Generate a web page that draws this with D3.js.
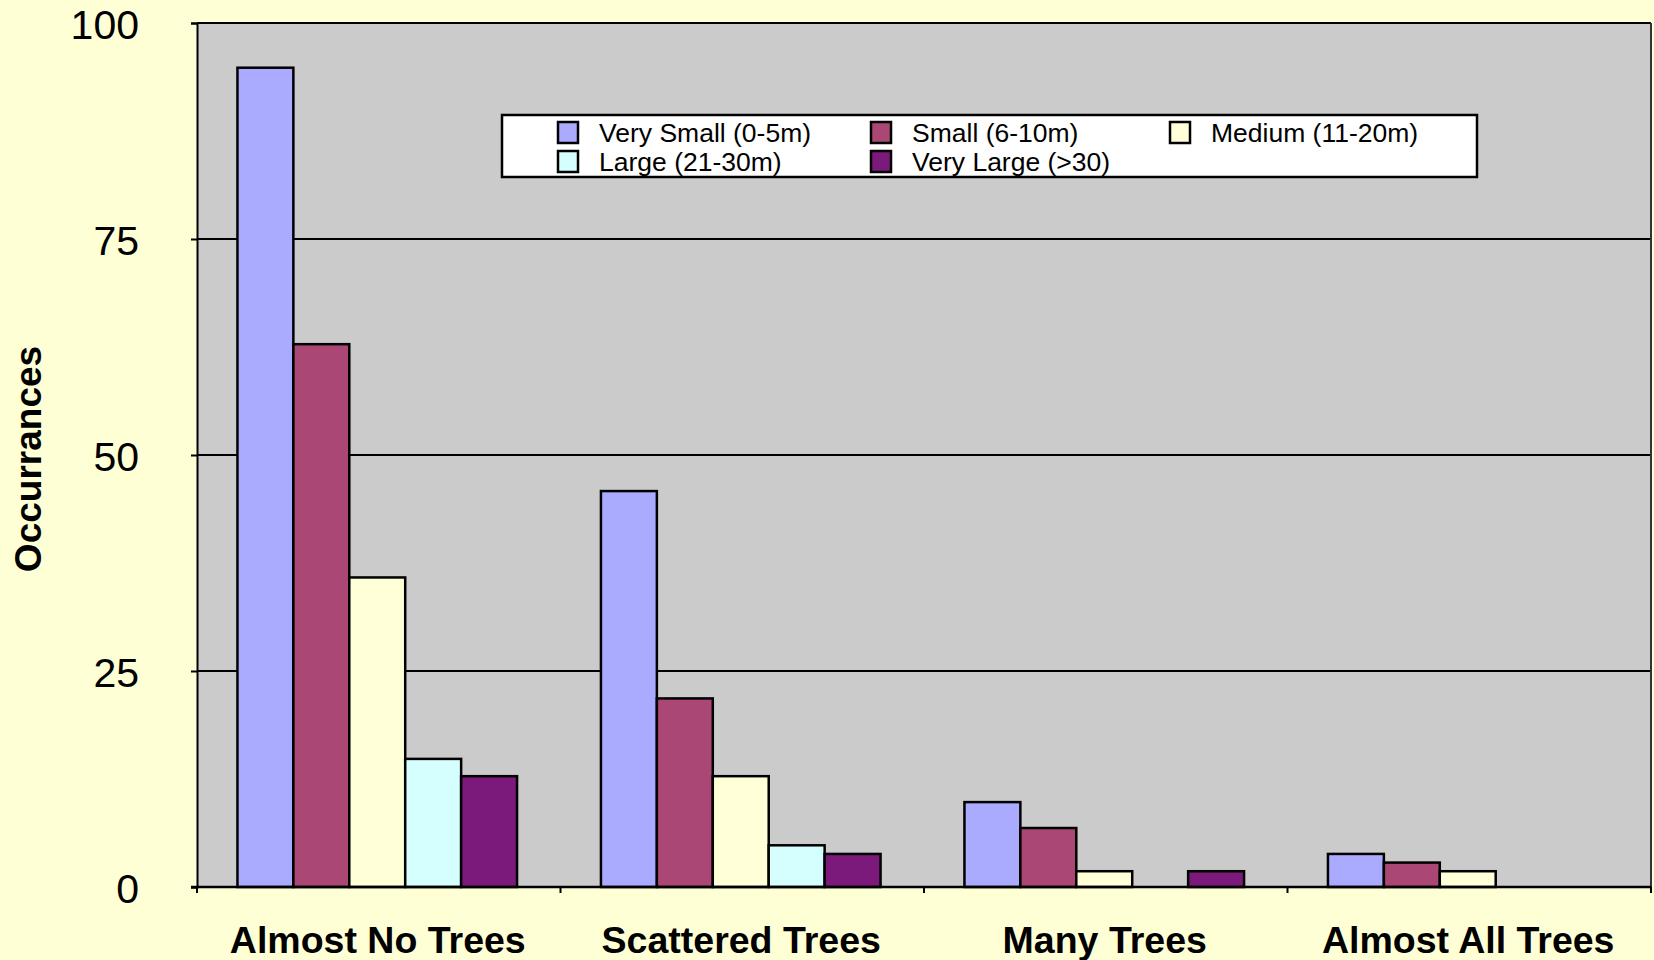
<!DOCTYPE html>
<html>
<head>
<meta charset="utf-8">
<script src="https://cdn.jsdelivr.net/npm/d3@7"></script>
<style>
  html, body { margin: 0; padding: 0; background: #FFFFD6; }
  svg { display: block; font-family: "Liberation Sans", Arial, sans-serif; }
</style>
</head>
<body>
<svg id="chart" width="1654" height="960"></svg>
<script>
// Tree-cover categories along the x axis
const categories = ["Almost No Trees", "Scattered Trees", "Many Trees", "Almost All Trees"];

// Tree-height classes (one bar per class in each category)
const seriesNames = ["Very Small (0-5m)", "Small (6-10m)", "Medium (11-20m)", "Large (21-30m)", "Very Large (>30)"];
const seriesColors = ["#AAAAFF", "#AA4774", "#FFFFD8", "#D5FFFF", "#7B1A7A"];

// Occurrences per class, in category order
const verySmall = [95, 46, 10, 4];
const small     = [63, 22, 7, 3];
const medium    = [36, 13, 2, 2];
const large     = [15, 5, 0, 0];
const veryLarge = [13, 4, 2, 0];
const seriesValues = [verySmall, small, medium, large, veryLarge];

const yTicks = [0, 25, 50, 75, 100];

const W = 1654, H = 960;
const margin = { top: 23, right: 3, bottom: 73, left: 197 };
const svg = d3.select("#chart");

const x = d3.scaleBand().domain(categories).range([margin.left, W - margin.right]).padding(0);
const xs = d3.scaleBand().domain(d3.range(seriesNames.length)).range([0, x.bandwidth()])
  .paddingInner(0).paddingOuter(0.75);
const y = d3.scaleLinear().domain([0, 100]).range([H - margin.bottom, margin.top]);

// Plot area background
svg.append("rect")
  .attr("x", margin.left).attr("y", margin.top)
  .attr("width", W - margin.right - margin.left)
  .attr("height", H - margin.bottom - margin.top)
  .attr("fill", "#CBCBCB");

// Horizontal gridlines
svg.append("g")
  .selectAll("line").data(yTicks.filter(d => d > 0)).join("line")
  .attr("x1", margin.left).attr("x2", W - margin.right)
  .attr("y1", d => y(d)).attr("y2", d => y(d))
  .attr("stroke", "#000").attr("stroke-width", 2);

// Right border of the plot area
svg.append("line")
  .attr("x1", W - margin.right).attr("x2", W - margin.right)
  .attr("y1", margin.top).attr("y2", H - margin.bottom)
  .attr("stroke", "#333").attr("stroke-width", 2);

// Bars
const rows = [];
categories.forEach((c, ci) => {
  seriesValues.forEach((vals, si) => {
    if (vals[ci] > 0) rows.push({ c, si, v: vals[ci] });
  });
});
svg.append("g")
  .selectAll("rect").data(rows).join("rect")
  .attr("x", d => x(d.c) + xs(d.si) - 1.5)
  .attr("y", d => y(d.v) + 1.5)
  .attr("width", xs.bandwidth())
  .attr("height", d => y(0) - y(d.v) - 1.5)
  .attr("fill", d => seriesColors[d.si])
  .attr("stroke", "#000").attr("stroke-width", 2.5);

// Y axis
const yAxis = svg.append("g")
  .attr("transform", `translate(${margin.left},0)`)
  .call(d3.axisLeft(y).tickValues(yTicks).tickSize(6).tickPadding(52).tickFormat(d3.format("d")));
yAxis.select(".domain").attr("stroke", "#000").attr("stroke-width", 2);
yAxis.selectAll(".tick line").attr("stroke", "#000").attr("stroke-width", 2);
yAxis.selectAll(".tick text").attr("font-size", 41).attr("fill", "#000")
  .attr("font-family", "'Liberation Sans', Arial, sans-serif").attr("dy", "0.38em");

// X axis
const xAxis = svg.append("g")
  .attr("transform", `translate(0,${H - margin.bottom})`)
  .call(d3.axisBottom(x).tickSize(0).tickPadding(0));
xAxis.select(".domain").remove();
xAxis.selectAll(".tick text").attr("font-size", 37.5).attr("font-weight", "bold").attr("fill", "#000")
  .attr("font-family", "'Liberation Sans', Arial, sans-serif")
  .attr("x", -1).attr("y", 66).attr("dy", 0);
svg.append("line")
  .attr("x1", margin.left - 6).attr("x2", W - margin.right)
  .attr("y1", y(0)).attr("y2", y(0))
  .attr("stroke", "#000").attr("stroke-width", 2.5);
const bounds = categories.map(c => x(c)).concat([W - margin.right]);
svg.append("g").selectAll("line").data(bounds).join("line")
  .attr("x1", d => d).attr("x2", d => d)
  .attr("y1", y(0)).attr("y2", y(0) + 6)
  .attr("stroke", "#000").attr("stroke-width", 2);

// Y axis title
svg.append("text")
  .attr("transform", `translate(41,459) rotate(-90)`)
  .attr("text-anchor", "middle")
  .attr("font-size", 37).attr("font-weight", "bold")
  .text("Occurrances");

// Legend
const legend = svg.append("g").attr("transform", "translate(502,115)");
legend.append("rect").attr("width", 975).attr("height", 62)
  .attr("fill", "#fff").attr("stroke", "#000").attr("stroke-width", 2.5);
const colX = [56, 369, 668];
const rowY = [17, 46];
const items = legend.selectAll("g.item").data(seriesNames).join("g")
  .attr("class", "item")
  .attr("transform", (d, i) => `translate(${colX[i % 3]},${rowY[Math.floor(i / 3)]})`);
items.append("rect").attr("x", 0).attr("y", -10).attr("width", 20).attr("height", 21)
  .attr("fill", (d, i) => seriesColors[i]).attr("stroke", "#000").attr("stroke-width", 2.5);
items.append("text").attr("x", 41).attr("y", 0).attr("dy", "0.36em")
  .attr("font-size", 26.5).text(d => d);
</script>
</body>
</html>
